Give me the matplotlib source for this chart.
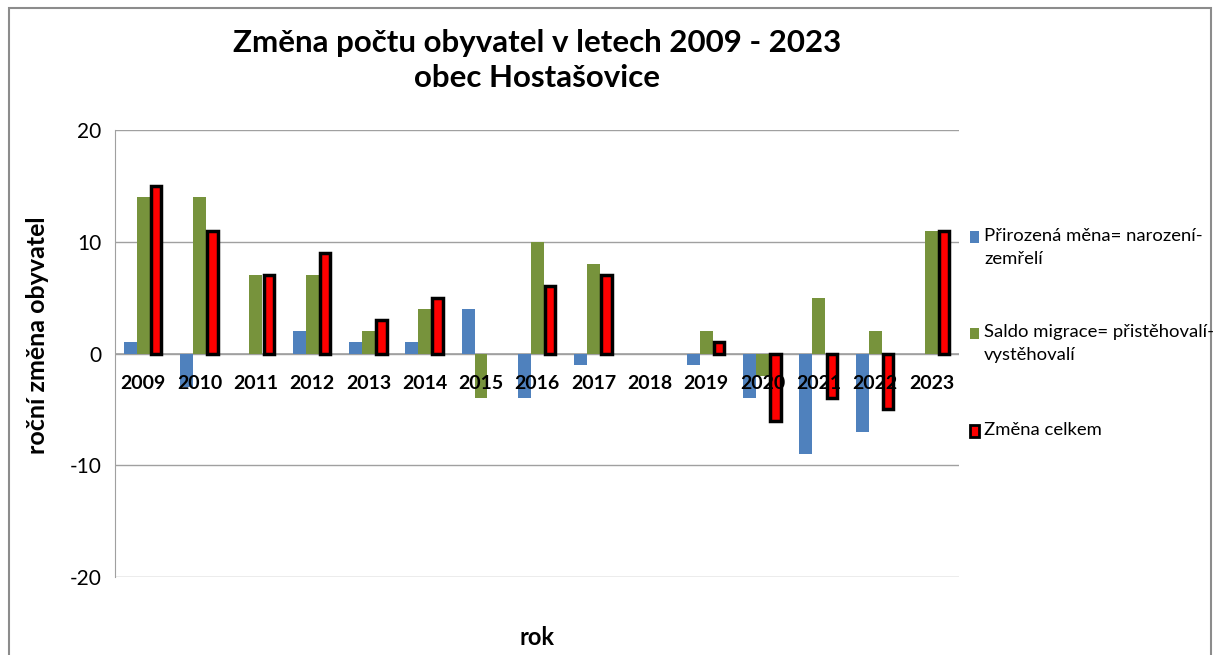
import numpy as np
import matplotlib.pyplot as plt
from matplotlib.patches import Rectangle

years = ['2009', '2010', '2011', '2012', '2013', '2014', '2015', '2016',
         '2017', '2018', '2019', '2020', '2021', '2022', '2023']
prirozena = [1, -3, 0, 2, 1, 1, 4, -4, -1, 0, -1, -4, -9, -7, 0]
migrace = [14, 14, 7, 7, 2, 4, -4, 10, 8, 0, 2, -2, 5, 2, 11]
celkem = [15, 11, 7, 9, 3, 5, 0, 6, 7, 0, 1, -6, -4, -5, 11]

labels = ['Přirozená měna= narození-\nzemřelí',
          'Saldo migrace= přistěhovalí-\nvystěhovalí',
          'Změna celkem']

plt.rcParams['font.family'] = ['Lato', 'DejaVu Sans']

fig = plt.figure(figsize=(12.15, 6.55), dpi=100)
ax = fig.add_axes([0.0947, 0.119, 0.695, 0.6825])

x = np.arange(len(years))
w = 0.23
ax.bar(x - w, prirozena, w, color='#4f81bd', zorder=3)
ax.bar(x, migrace, w, color='#77933c', zorder=3)
# zero totals are not drawn at all
tot = np.array(celkem, dtype=float)
nz = tot != 0
ax.bar(x[nz] + w, tot[nz], w * 0.8, color='#ff0000', edgecolor='black', linewidth=2.5, zorder=4)

ax.set_xlim(-0.5, len(years) - 0.5)
ax.set_ylim(-20, 20)
ax.set_yticks([-20, -10, 0, 10, 20])
ax.set_yticklabels(['-20', '-10', '0', '10', '20'], fontsize=15)
ax.grid(axis='y', color='#a0a0a0', linewidth=1, zorder=0)
ax.axhline(0, color='#a0a0a0', linewidth=1.2, zorder=2)
ax.set_xticks([])
ax.tick_params(axis='y', length=0, pad=10)
for s in ['top', 'right', 'bottom']:
    ax.spines[s].set_visible(False)
ax.spines['left'].set_color('#a0a0a0')

for i, yr in enumerate(years):
    ax.text(i, -2.7, yr, ha='center', va='center', fontsize=14, fontweight='bold', zorder=5)

fig.text(0.031, 0.489, 'roční změna obyvatel', rotation=90, ha='center', va='center',
         fontsize=18, fontweight='bold')
fig.text(0.442, 0.027, 'rok', ha='center', va='center', fontsize=17, fontweight='bold')

fig.text(0.442, 0.907, 'Změna počtu obyvatel v letech 2009 - 2023\nobec Hostašovice',
         ha='center', va='center', fontsize=22.5, fontweight='bold', linespacing=1.3)

colors = [('#4f81bd', 'none', 0), ('#77933c', 'none', 0), ('#ff0000', 'black', 2)]
ys = [0.638, 0.491, 0.342]
for (fc, ec, lw), yy, lab in zip(colors, ys, labels):
    fig.patches.append(Rectangle((0.798, yy - 0.009), 0.0075, 0.018, transform=fig.transFigure,
                                 facecolor=fc, edgecolor=ec, linewidth=lw))
    fig.text(0.81, yy + 0.014, lab, ha='left', va='top', fontsize=13.3, linespacing=1.55)

fig.patches.append(Rectangle((0.007, -0.01), 0.99, 0.998, transform=fig.transFigure,
                             fill=False, edgecolor='#8c8c8c', linewidth=1.5))

fig.savefig('out.png', dpi=100)
